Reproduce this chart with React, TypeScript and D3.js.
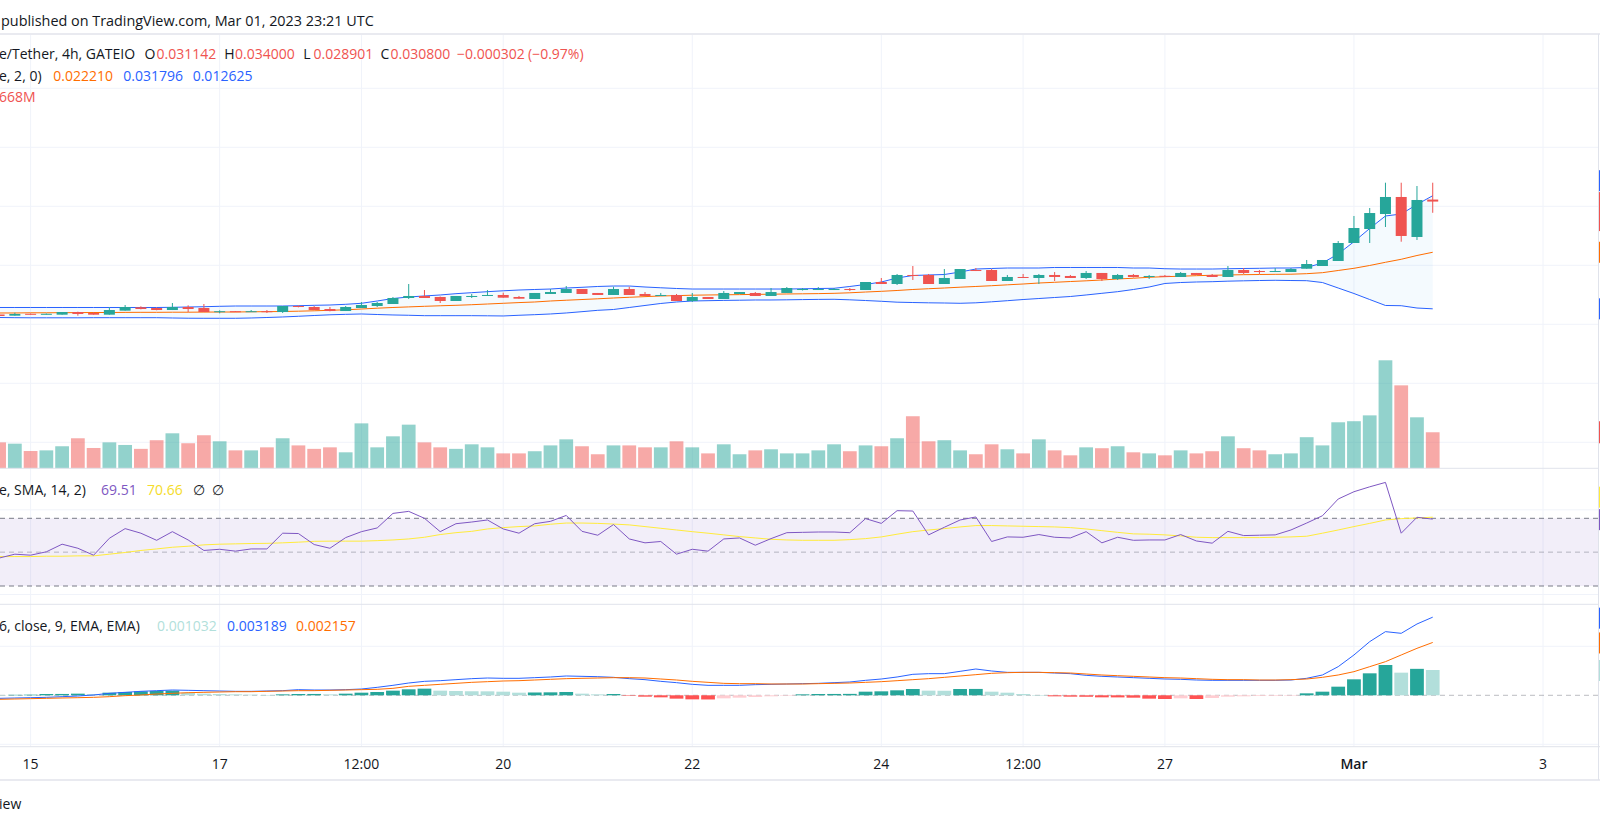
import React from "react";
import * as d3 from "d3";

// ---------- Data (4h candles) ----------
const START = Date.UTC(2023, 1, 14, 16); // first visible candle, Feb 14 16:00 UTC
const STEP = 4 * 60 * 60 * 1000;

const opens = [
  0.01166, 0.01146, 0.01178, 0.01169, 0.01163, 0.01208, 0.01192, 0.01163, 0.01231, 0.01288,
  0.01276, 0.01242, 0.01293, 0.01276, 0.01214, 0.01222, 0.01214, 0.01222, 0.01208, 0.0131,
  0.01293, 0.01259, 0.01225, 0.01276, 0.0131, 0.01344, 0.01446, 0.0148, 0.01463, 0.01395,
  0.01463, 0.01488, 0.01497, 0.01463, 0.01429, 0.01514, 0.01531, 0.01598, 0.01531, 0.01497,
  0.01598, 0.01514, 0.0148, 0.01497, 0.01395, 0.01463, 0.01429, 0.01514, 0.01531, 0.0148,
  0.01531, 0.01581, 0.0159, 0.0159, 0.01598, 0.01581, 0.01717, 0.01683, 0.01836, 0.01836,
  0.01683, 0.01768, 0.0192, 0.0192, 0.01734, 0.01802, 0.01785, 0.01836, 0.01819, 0.01785,
  0.0187, 0.01768, 0.01836, 0.01802, 0.01822, 0.01802, 0.0187, 0.01836, 0.01802, 0.0192,
  0.01903, 0.01895, 0.01886, 0.01942, 0.01988, 0.02073, 0.02378, 0.02615, 0.02869, 0.03158,
  0.0248, 0.031142,
];
const highs = [
  0.01175, 0.01197, 0.01183, 0.01183, 0.01208, 0.01214, 0.01208, 0.01288, 0.01327, 0.01305,
  0.01285, 0.01361, 0.01322, 0.01344, 0.01237, 0.01225, 0.01242, 0.01242, 0.0131, 0.01319,
  0.0131, 0.01293, 0.0131, 0.01378, 0.01378, 0.01463, 0.01683, 0.01581, 0.01471, 0.0148,
  0.01514, 0.01581, 0.01536, 0.0148, 0.01531, 0.01598, 0.01649, 0.01598, 0.01531, 0.01637,
  0.01637, 0.01547, 0.01531, 0.01514, 0.01531, 0.01463, 0.01564, 0.01547, 0.01547, 0.01615,
  0.01632, 0.01615, 0.01632, 0.01615, 0.01615, 0.01717, 0.01785, 0.01853, 0.01988, 0.01853,
  0.01937, 0.01937, 0.01954, 0.01937, 0.01836, 0.01853, 0.01853, 0.01886, 0.01836, 0.01903,
  0.0187, 0.01853, 0.01853, 0.01836, 0.01836, 0.01886, 0.0187, 0.01853, 0.01988, 0.01954,
  0.0192, 0.01954, 0.01954, 0.0209, 0.0209, 0.02412, 0.02836, 0.02971, 0.034, 0.034,
  0.03344, 0.034,
];
const lows = [
  0.01132, 0.01146, 0.01166, 0.01166, 0.01163, 0.01146, 0.01163, 0.01163, 0.01231, 0.01254,
  0.01237, 0.01242, 0.01208, 0.01208, 0.01186, 0.01208, 0.01214, 0.01192, 0.01192, 0.01288,
  0.01242, 0.0122, 0.01225, 0.01276, 0.01293, 0.01344, 0.01429, 0.01446, 0.01361, 0.01395,
  0.01446, 0.0148, 0.01451, 0.01434, 0.01429, 0.01514, 0.01531, 0.01514, 0.01497, 0.01497,
  0.01497, 0.0148, 0.0148, 0.01395, 0.01378, 0.01429, 0.01429, 0.01514, 0.0148, 0.0148,
  0.01531, 0.01573, 0.01581, 0.01581, 0.01564, 0.01581, 0.01683, 0.01666, 0.01751, 0.01683,
  0.01683, 0.01768, 0.01903, 0.01734, 0.01734, 0.01785, 0.01683, 0.01734, 0.01785, 0.01768,
  0.01734, 0.01751, 0.01793, 0.01768, 0.01802, 0.01802, 0.01836, 0.01802, 0.01802, 0.01853,
  0.01853, 0.01886, 0.01886, 0.01942, 0.01988, 0.02073, 0.02378, 0.02378, 0.02649, 0.024,
  0.02429, 0.028901,
];
const closes = [
  0.01141, 0.01175, 0.01169, 0.01178, 0.01208, 0.01175, 0.01163, 0.01242, 0.01293, 0.01259,
  0.01242, 0.01293, 0.01259, 0.01208, 0.01222, 0.01214, 0.01222, 0.01214, 0.0131, 0.01293,
  0.01242, 0.01225, 0.01293, 0.01327, 0.01361, 0.01446, 0.0148, 0.01446, 0.01395, 0.0148,
  0.0148, 0.01497, 0.01451, 0.01434, 0.01531, 0.01547, 0.01598, 0.01514, 0.01497, 0.01598,
  0.01497, 0.0148, 0.01497, 0.01395, 0.01463, 0.01429, 0.01531, 0.01547, 0.0148, 0.01547,
  0.01615, 0.01598, 0.01598, 0.01598, 0.01581, 0.01717, 0.01683, 0.01836, 0.01819, 0.01683,
  0.01785, 0.01937, 0.01903, 0.01734, 0.01802, 0.01785, 0.01836, 0.01802, 0.01785, 0.0187,
  0.01768, 0.01836, 0.01802, 0.01819, 0.01814, 0.0187, 0.01836, 0.01802, 0.0192, 0.0187,
  0.01892, 0.01903, 0.01937, 0.02022, 0.0209, 0.02378, 0.02632, 0.02886, 0.03158, 0.02497,
  0.03107, 0.0308,
];
// volume in millions
const volumes = [
  1.2, 1.14, 0.8, 0.83, 1.02, 1.39, 0.94, 1.2, 1.08, 0.9,
  1.3, 1.62, 1.16, 1.53, 1.25, 0.83, 0.83, 0.97, 1.39, 1.06,
  0.9, 0.97, 0.74, 2.08, 0.97, 1.48, 2.02, 1.2, 0.97, 0.9,
  1.11, 0.97, 0.69, 0.69, 0.79, 1.06, 1.34, 1.02, 0.65, 1.06,
  1.06, 0.97, 0.97, 1.25, 0.97, 0.69, 1.11, 0.65, 0.83, 0.88,
  0.69, 0.69, 0.83, 1.11, 0.79, 1.06, 1.02, 1.39, 2.41, 1.25,
  1.3, 0.83, 0.65, 1.11, 0.88, 0.69, 1.34, 0.83, 0.6, 0.97,
  0.93, 1.02, 0.74, 0.69, 0.6, 0.83, 0.69, 0.79, 1.48, 0.93,
  0.83, 0.65, 0.69, 1.44, 1.06, 2.13, 2.18, 2.45, 5.0, 3.84,
  2.36, 1.668,
];
const bbUpper = [
  0.01285, 0.01285, 0.01285, 0.01285, 0.01285, 0.01285, 0.01285, 0.01285, 0.01285, 0.01285,
  0.01285, 0.01288, 0.01293, 0.01298, 0.01305, 0.0131, 0.0131, 0.0131, 0.0131, 0.01315,
  0.01322, 0.01327, 0.01339, 0.01356, 0.01395, 0.01437, 0.01463, 0.0148, 0.01497, 0.01519,
  0.01536, 0.01553, 0.01568, 0.01581, 0.0159, 0.01598, 0.01615, 0.01627, 0.01641, 0.01649,
  0.01649, 0.01632, 0.01619, 0.01607, 0.01598, 0.01598, 0.01598, 0.01598, 0.01598, 0.01598,
  0.01598, 0.01602, 0.01607, 0.0161, 0.01641, 0.01675, 0.01717, 0.01785, 0.01827, 0.01836,
  0.01844, 0.01886, 0.01937, 0.01946, 0.01954, 0.01954, 0.01954, 0.01963, 0.01963, 0.01963,
  0.01963, 0.01963, 0.01954, 0.01954, 0.01942, 0.01937, 0.01937, 0.01937, 0.01942, 0.01946,
  0.01949, 0.01954, 0.01954, 0.01963, 0.02039, 0.02192, 0.024, 0.02624, 0.02836, 0.02869,
  0.03031, 0.031796,
];
const bbBasis = [
  0.01192, 0.01192, 0.01195, 0.01195, 0.01197, 0.01198, 0.012, 0.012, 0.01202, 0.01203,
  0.01203, 0.01205, 0.01205, 0.01207, 0.01208, 0.01208, 0.01212, 0.01214, 0.01217, 0.01222,
  0.01229, 0.01237, 0.01246, 0.01259, 0.01273, 0.01285, 0.01295, 0.01305, 0.01314, 0.01322,
  0.01332, 0.01344, 0.01356, 0.01368, 0.01378, 0.01395, 0.01408, 0.0142, 0.01432, 0.01446,
  0.01458, 0.01469, 0.0148, 0.01486, 0.01493, 0.01497, 0.015, 0.01503, 0.01507, 0.0151,
  0.01514, 0.01517, 0.0152, 0.01525, 0.01534, 0.01547, 0.01559, 0.01573, 0.0159, 0.01603,
  0.01615, 0.01629, 0.01641, 0.01654, 0.01669, 0.01683, 0.017, 0.01712, 0.01725, 0.01737,
  0.01751, 0.01768, 0.01781, 0.01797, 0.01807, 0.01815, 0.01824, 0.01831, 0.01836, 0.01841,
  0.01844, 0.01847, 0.01849, 0.01858, 0.01875, 0.01912, 0.01949, 0.01997, 0.02051, 0.02102,
  0.02166, 0.02221,
];
const bbLower = [
  0.01115, 0.01112, 0.0111, 0.0111, 0.0111, 0.0111, 0.01112, 0.01112, 0.01112, 0.01112,
  0.01112, 0.01107, 0.01103, 0.01102, 0.01102, 0.01102, 0.01107, 0.01115, 0.01124, 0.01136,
  0.01149, 0.01161, 0.01169, 0.01175, 0.01166, 0.01158, 0.01153, 0.01146, 0.01146, 0.01146,
  0.01146, 0.01144, 0.01141, 0.01153, 0.01163, 0.01175, 0.01192, 0.01214, 0.01237, 0.01251,
  0.01285, 0.01319, 0.01353, 0.01378, 0.01395, 0.014, 0.01405, 0.01408, 0.01412, 0.01412,
  0.01415, 0.01419, 0.01422, 0.01424, 0.01415, 0.01403, 0.0139, 0.01375, 0.01369, 0.01364,
  0.01361, 0.01356, 0.01364, 0.01381, 0.014, 0.0142, 0.01437, 0.01454, 0.01471, 0.01497,
  0.01525, 0.01553, 0.0159, 0.01632, 0.01692, 0.01708, 0.01717, 0.01722, 0.01731, 0.01737,
  0.01742, 0.01746, 0.01742, 0.01739, 0.01708, 0.01615, 0.01522, 0.0142, 0.01319, 0.01315,
  0.01276, 0.012625,
];
const rsi = [
  46.5, 48.8, 48.2, 50.2, 54.7, 52.3, 48.2, 58.2, 63.9, 61.2,
  57.0, 62.1, 57.2, 51.0, 51.7, 50.6, 51.9, 51.9, 61.2, 61.0,
  54.5, 52.3, 58.6, 62.1, 64.3, 72.9, 74.1, 70.0, 62.1, 66.8,
  67.8, 69.0, 63.7, 61.2, 66.8, 68.2, 71.7, 62.3, 60.0, 66.3,
  57.8, 55.5, 56.3, 48.8, 51.7, 50.6, 57.8, 58.4, 54.1, 58.0,
  61.5, 61.7, 61.9, 61.9, 61.5, 69.8, 67.0, 74.5, 74.3, 60.2,
  64.7, 69.0, 70.8, 56.3, 59.0, 58.8, 60.4, 58.8, 58.4, 62.1,
  55.5, 58.8, 57.0, 57.2, 57.2, 60.4, 56.6, 55.3, 62.3, 59.8,
  60.0, 60.2, 63.1, 67.2, 71.5, 81.4, 85.7, 88.6, 91.2, 61.2,
  70.6, 69.51,
];
const rsiSma = [
  47.4, 47.4, 47.4, 47.6, 47.6, 47.8, 47.8, 48.8, 49.8, 51.0,
  51.9, 52.9, 53.5, 54.3, 54.7, 54.9, 55.1, 55.2, 55.5, 55.9,
  56.4, 56.5, 56.5, 56.5, 56.8, 57.2, 57.8, 58.8, 60.4, 61.5,
  62.3, 63.7, 64.5, 65.1, 65.5, 66.5, 67.2, 67.2, 67.0, 66.6,
  66.1, 65.1, 64.1, 63.1, 62.1, 61.2, 60.2, 59.2, 58.4, 57.6,
  57.2, 57.0, 57.0, 57.0, 57.4, 58.0, 59.0, 60.6, 62.1, 63.1,
  63.9, 64.9, 65.7, 65.7, 65.5, 65.3, 65.1, 64.9, 64.5, 63.7,
  62.7, 61.7, 60.8, 60.6, 60.2, 59.6, 58.8, 58.6, 58.6, 58.6,
  58.6, 58.8, 59.0, 59.4, 61.2, 63.1, 65.1, 67.0, 69.0, 69.8,
  70.2, 70.66,
];
const macdLine = [
  -0.000124, -0.00011, -0.000097, -0.000083, -0.000056, -0.000029, 0.000012, 0.00008, 0.000121, 0.000162,
  0.000189, 0.000216, 0.000203, 0.000189, 0.000176, 0.000162, 0.000162, 0.000176, 0.000189, 0.00023,
  0.000216, 0.000216, 0.00023, 0.000257, 0.000325, 0.000407, 0.000502, 0.00057, 0.000597, 0.000638,
  0.000679, 0.000706, 0.000693, 0.000693, 0.00072, 0.000747, 0.000788, 0.000774, 0.00076, 0.000733,
  0.000679, 0.000638, 0.00057, 0.000516, 0.000448, 0.000407, 0.000407, 0.000407, 0.000434, 0.000448,
  0.000461, 0.000475, 0.000488, 0.000516, 0.000543, 0.000611, 0.000665, 0.000747, 0.000856, 0.000883,
  0.000883, 0.000978, 0.001073, 0.000992, 0.000937, 0.000937, 0.000937, 0.00091, 0.000883, 0.000815,
  0.000774, 0.000747, 0.00072, 0.000693, 0.000665, 0.000652, 0.000624, 0.000611, 0.000611, 0.000611,
  0.000611, 0.000611, 0.000624, 0.000693, 0.000829, 0.001169, 0.001645, 0.00219, 0.002598, 0.00253,
  0.00291, 0.003189,
];
const signalLine = [
  -0.000165, -0.000151, -0.000137, -0.000124, -0.00011, -0.000097, -0.000083, -0.000056, -0.000015, 0.000012,
  0.000053, 0.00008, 0.000107, 0.000121, 0.000135, 0.000148, 0.000148, 0.000162, 0.000176, 0.000189,
  0.000189, 0.000203, 0.000216, 0.00023, 0.000244, 0.000284, 0.000366, 0.000407, 0.000448, 0.000488,
  0.000529, 0.000556, 0.000584, 0.000597, 0.000624, 0.000652, 0.000679, 0.000693, 0.000706, 0.00072,
  0.00072, 0.000706, 0.000665, 0.000624, 0.00057, 0.000529, 0.000488, 0.000475, 0.000475, 0.000461,
  0.000461, 0.000461, 0.000475, 0.000488, 0.000502, 0.000529, 0.000556, 0.000597, 0.000638, 0.000679,
  0.000733, 0.000788, 0.000842, 0.000897, 0.000924, 0.000937, 0.000937, 0.000924, 0.00091, 0.000869,
  0.000829, 0.000801, 0.000774, 0.000747, 0.00072, 0.000706, 0.000679, 0.000652, 0.000638, 0.000638,
  0.000624, 0.000624, 0.000638, 0.000665, 0.000733, 0.000829, 0.000965, 0.001169, 0.001373, 0.001645,
  0.001917, 0.002157,
];
const histogram = [
  0.00001, 0.00002, 0.000026, 0.000053, 0.000055, 0.000067, 0.000053, 0.000107, 0.000135, 0.000162,
  0.000176, 0.000189, 0.000107, 0.000067, 0.000053, 0.000039, 0.000026, 0.000012, 0.000039, 0.000053,
  0.000055, 0.000039, 0.000067, 0.000107, 0.000135, 0.000189, 0.000244, 0.000271, 0.000189, 0.000176,
  0.000165, 0.000162, 0.000148, 0.000107, 0.000115, 0.000121, 0.000135, 0.000067, 0.000039, 0.000053,
  -0.000005, -0.000056, -0.000083, -0.000137, -0.000165, -0.00017, -0.000124, -0.000097, -0.000069, -0.000042,
  -0.000015, 0.000039, 0.000053, 0.000055, 0.000058, 0.000148, 0.000162, 0.000203, 0.000257, 0.000189,
  0.000185, 0.000257, 0.00026, 0.000148, 0.000107, 0.000053, 0.000005, -0.000042, -0.000056, -0.00006,
  -0.000083, -0.000085, -0.000097, -0.000137, -0.000151, -0.000124, -0.000151, -0.00011, -0.000056, -0.000042,
  -0.000029, -0.000025, -0.00001, 0.00008, 0.000148, 0.000352, 0.000652, 0.000897, 0.001237, 0.000924,
  0.00108, 0.001032,
];

const tickDates = [
  Date.UTC(2023, 1, 15), Date.UTC(2023, 1, 17), Date.UTC(2023, 1, 18, 12), Date.UTC(2023, 1, 20),
  Date.UTC(2023, 1, 22), Date.UTC(2023, 1, 24), Date.UTC(2023, 1, 25, 12), Date.UTC(2023, 1, 27),
  Date.UTC(2023, 2, 1), Date.UTC(2023, 2, 3),
];
const tickLabels = ["15", "17", "12:00", "20", "22", "24", "12:00", "27", "Mar", "3"];
const priceGrid = [-0.01, 0, 0.01, 0.02, 0.03, 0.04, 0.05];
const rsiGrid = [25, 75];
const rsiLevels = [70, 50, 30];
const macdGrid = [-0.002, 0.002];

// ---------- Styles ----------
const UP = "#26a69a";
const DOWN = "#ef5350";
const VOL_UP = "rgba(38,166,154,0.5)";
const VOL_DOWN = "rgba(239,83,80,0.5)";
const BLUE = "#2962ff";
const ORANGE = "#ff6d00";
const PURPLE = "#7e57c2";
const YELLOW = "#ffeb3b";
const TEXT = "#131722";
const GRID = "#f0f3fa";
const BORDER = "#e0e3eb";
const FONT = "'Open Sans', 'DejaVu Sans', sans-serif";

const W = 1600;
const H = 825;
const PLOT_R = 1598.5;
const TOP = 34;
const VOL_BASE = 468.3;
const RSI_BOTTOM = 604.3;
const AXIS_TOP = 746.7;

const App: React.FC = () => {
  const times = opens.map((_, i) => new Date(START + i * STEP));

  const x = d3
    .scaleUtc()
    .domain([new Date(tickDates[0]), new Date(tickDates[tickDates.length - 1])])
    .range([30.6, 1543]);
  const step = x(times[1]) - x(times[0]);

  const yPrice = d3.scaleLinear().domain([0, 0.05]).range([383.3, 88.3]);
  const yVol = d3.scaleLinear().domain([0, 5]).range([VOL_BASE, 360.3]);
  const yRsi = d3.scaleLinear().domain([30, 70]).range([586, 518.3]);
  const yMacd = d3.scaleLinear().domain([0, 0.002]).range([695.3, 646.3]);

  const lineOf = (scale: d3.ScaleLinear<number, number>) =>
    d3
      .line<number>()
      .x((_, i) => x(times[i]))
      .y((d) => scale(d));

  const bbArea = d3
    .area<number>()
    .x((_, i) => x(times[i]))
    .y0((_, i) => yPrice(bbLower[i]))
    .y1((d) => yPrice(d));

  const histColor = (i: number) => {
    const v = histogram[i];
    const p = i > 0 ? histogram[i - 1] : v;
    if (v >= 0) return v > p ? "#26a69a" : "#b2dfdb";
    return v < p ? "#ff5252" : "#ffcdd2";
  };

  // price-axis label stubs peeking in at the right edge
  const stubs = [
    { y: yPrice(0.031796) - 25.5, h: 21, c: BLUE },
    { y: yPrice(0.0308) - 9.5, h: 39, c: DOWN },
    { y: yPrice(0.02221) - 10.5, h: 21, c: ORANGE },
    { y: yPrice(0.012625) - 10.5, h: 21, c: BLUE },
    { y: yVol(1.668) - 11, h: 22, c: DOWN },
    { y: yRsi(70.66) - 30.5, h: 21, c: YELLOW },
    { y: yRsi(69.51) - 10, h: 21, c: PURPLE },
    { y: yMacd(0.003189) - 9.5, h: 21, c: BLUE },
    { y: yMacd(0.002157) - 10, h: 21, c: ORANGE },
    { y: yMacd(0.001032) - 10, h: 21, c: "#b2dfdb" },
  ];

  const txt = { fontFamily: FONT, fontSize: 14, dominantBaseline: "central" as const };

  return (
    <svg
      width={W}
      height={H}
      style={{ position: "absolute", left: 0, top: 0, background: "#fff" }}
    >
      <defs>
        <clipPath id="plot">
          <rect x={0} y={TOP} width={PLOT_R} height={AXIS_TOP - TOP} />
        </clipPath>
      </defs>

      {/* Grid */}
      <g stroke={GRID} strokeWidth={1}>
        {tickDates.map((t, i) => (
          <line key={"v" + i} x1={x(new Date(t))} x2={x(new Date(t))} y1={TOP} y2={AXIS_TOP} />
        ))}
        {priceGrid.map((v) => (
          <line key={"p" + v} x1={0} x2={PLOT_R} y1={yPrice(v)} y2={yPrice(v)} />
        ))}
        {rsiGrid.map((v) => (
          <line key={"r" + v} x1={0} x2={PLOT_R} y1={yRsi(v)} y2={yRsi(v)} />
        ))}
        {macdGrid.map((v) => (
          <line key={"m" + v} x1={0} x2={PLOT_R} y1={yMacd(v)} y2={yMacd(v)} />
        ))}
      </g>

      <g clipPath="url(#plot)">
        {/* Volume */}
        {volumes.map((v, i) => (
          <rect
            key={"vol" + i}
            x={x(times[i]) - (step - 2) / 2}
            y={yVol(v)}
            width={step - 2}
            height={VOL_BASE - yVol(v)}
            fill={closes[i] >= opens[i] ? VOL_UP : VOL_DOWN}
          />
        ))}

        {/* Bollinger Bands */}
        <path d={bbArea(bbUpper) ?? ""} fill="rgba(33,150,243,0.05)" />
        <path d={lineOf(yPrice)(bbUpper) ?? ""} fill="none" stroke={BLUE} strokeWidth={1} />
        <path d={lineOf(yPrice)(bbLower) ?? ""} fill="none" stroke={BLUE} strokeWidth={1} />
        <path d={lineOf(yPrice)(bbBasis) ?? ""} fill="none" stroke={ORANGE} strokeWidth={1} />

        {/* Candles */}
        {opens.map((o, i) => {
          const c = closes[i];
          const col = c >= o ? UP : DOWN;
          const cx = x(times[i]);
          const top = yPrice(Math.max(o, c));
          const bh = Math.max(1, Math.abs(yPrice(o) - yPrice(c)));
          return (
            <g key={"c" + i} fill={col}>
              <rect x={cx - 0.5} y={yPrice(highs[i])} width={1} height={yPrice(lows[i]) - yPrice(highs[i])} />
              <rect x={cx - 5.5} y={top} width={11} height={bh} />
            </g>
          );
        })}

        {/* RSI */}
        <rect x={0} y={yRsi(70)} width={PLOT_R} height={yRsi(30) - yRsi(70)} fill="rgba(126,87,194,0.1)" />
        {rsiLevels.map((v) => (
          <line
            key={"lvl" + v}
            x1={0}
            x2={PLOT_R}
            y1={yRsi(v)}
            y2={yRsi(v)}
            stroke="#787b86"
            strokeOpacity={v === 50 ? 0.5 : 1}
            strokeDasharray="5 4"
          />
        ))}
        <path d={lineOf(yRsi)(rsiSma) ?? ""} fill="none" stroke={YELLOW} strokeWidth={1} />
        <path d={lineOf(yRsi)(rsi) ?? ""} fill="none" stroke={PURPLE} strokeWidth={1} />

        {/* MACD */}
        <line
          x1={0}
          x2={PLOT_R}
          y1={yMacd(0)}
          y2={yMacd(0)}
          stroke="#787b86"
          strokeOpacity={0.5}
          strokeDasharray="5 4"
        />
        {histogram.map((v, i) => (
          <rect
            key={"h" + i}
            x={x(times[i]) - (step - 2) / 2}
            y={Math.min(yMacd(v), yMacd(0))}
            width={step - 2}
            height={Math.max(0.5, Math.abs(yMacd(v) - yMacd(0)))}
            fill={histColor(i)}
          />
        ))}
        <path d={lineOf(yMacd)(macdLine) ?? ""} fill="none" stroke={BLUE} strokeWidth={1} />
        <path d={lineOf(yMacd)(signalLine) ?? ""} fill="none" stroke={ORANGE} strokeWidth={1} />
      </g>

      {/* Pane borders */}
      <rect x={0} y={33} width={W} height={2} fill="#e9eaf0" />
      <line x1={0} x2={PLOT_R} y1={VOL_BASE} y2={VOL_BASE} stroke={BORDER} />
      <line x1={0} x2={PLOT_R} y1={RSI_BOTTOM} y2={RSI_BOTTOM} stroke={BORDER} />
      <line x1={0} x2={W} y1={AXIS_TOP} y2={AXIS_TOP} stroke={BORDER} />
      <rect x={0} y={779} width={W} height={2} fill="#e9eaf0" />
      <line x1={PLOT_R} x2={PLOT_R} y1={TOP} y2={780} stroke={BORDER} />
      {stubs.map((s, i) => (
        <rect key={"s" + i} x={1599} y={s.y} width={1} height={s.h} fill={s.c} />
      ))}

      {/* Time axis */}
      {tickDates.map((t, i) => (
        <text
          key={"t" + i}
          {...txt}
          x={x(new Date(t))}
          y={763.3}
          textAnchor="middle"
          fill={TEXT}
          fontWeight={tickLabels[i] === "Mar" ? 600 : 400}
        >
          {tickLabels[i]}
        </text>
      ))}

      {/* Header & legends */}
      <text {...txt} fontSize={14.4} x={1} y={20} fill={TEXT}>
        published on TradingView.com, Mar 01, 2023 23:21 UTC
      </text>
      <g {...txt}>
        <text x={-1} y={53.5} fill={TEXT}>e/Tether, 4h, GATEIO</text>
        <text x={144.5} y={53.5} fill={TEXT}>O</text>
        <text x={156.5} y={53.5} fill={DOWN}>0.031142</text>
        <text x={224.3} y={53.5} fill={TEXT}>H</text>
        <text x={235} y={53.5} fill={DOWN}>0.034000</text>
        <text x={303.3} y={53.5} fill={TEXT}>L</text>
        <text x={313.5} y={53.5} fill={DOWN}>0.028901</text>
        <text x={380.5} y={53.5} fill={TEXT}>C</text>
        <text x={390.5} y={53.5} fill={DOWN}>0.030800</text>
        <text x={457} y={53.5} fill={DOWN}>−0.000302</text>
        <text x={528} y={53.5} fill={DOWN}>(−0.97%)</text>

        <text x={-1} y={75} fill={TEXT}>e, 2, 0)</text>
        <text x={53.3} y={75} fill={ORANGE}>0.022210</text>
        <text x={123.3} y={75} fill={BLUE}>0.031796</text>
        <text x={192.7} y={75} fill={BLUE}>0.012625</text>

        <text x={-1} y={96.5} fill={DOWN}>668M</text>

        <text x={-1} y={489.3} fill={TEXT}>e, SMA, 14, 2)</text>
        <text x={101} y={489.3} fill={PURPLE}>69.51</text>
        <text x={147} y={489.3} fill="#f5dc2a">70.66</text>
        <text x={193} y={489.3} fill={TEXT}>∅</text>
        <text x={212} y={489.3} fill={TEXT}>∅</text>

        <text x={-1} y={625} fill={TEXT}>6, close, 9, EMA, EMA)</text>
        <text x={157} y={625} fill="#b2dfdb">0.001032</text>
        <text x={227} y={625} fill={BLUE}>0.003189</text>
        <text x={296} y={625} fill={ORANGE}>0.002157</text>

        <text x={-1} y={803.3} fill={TEXT}>iew</text>
      </g>
    </svg>
  );
};

export default App;
